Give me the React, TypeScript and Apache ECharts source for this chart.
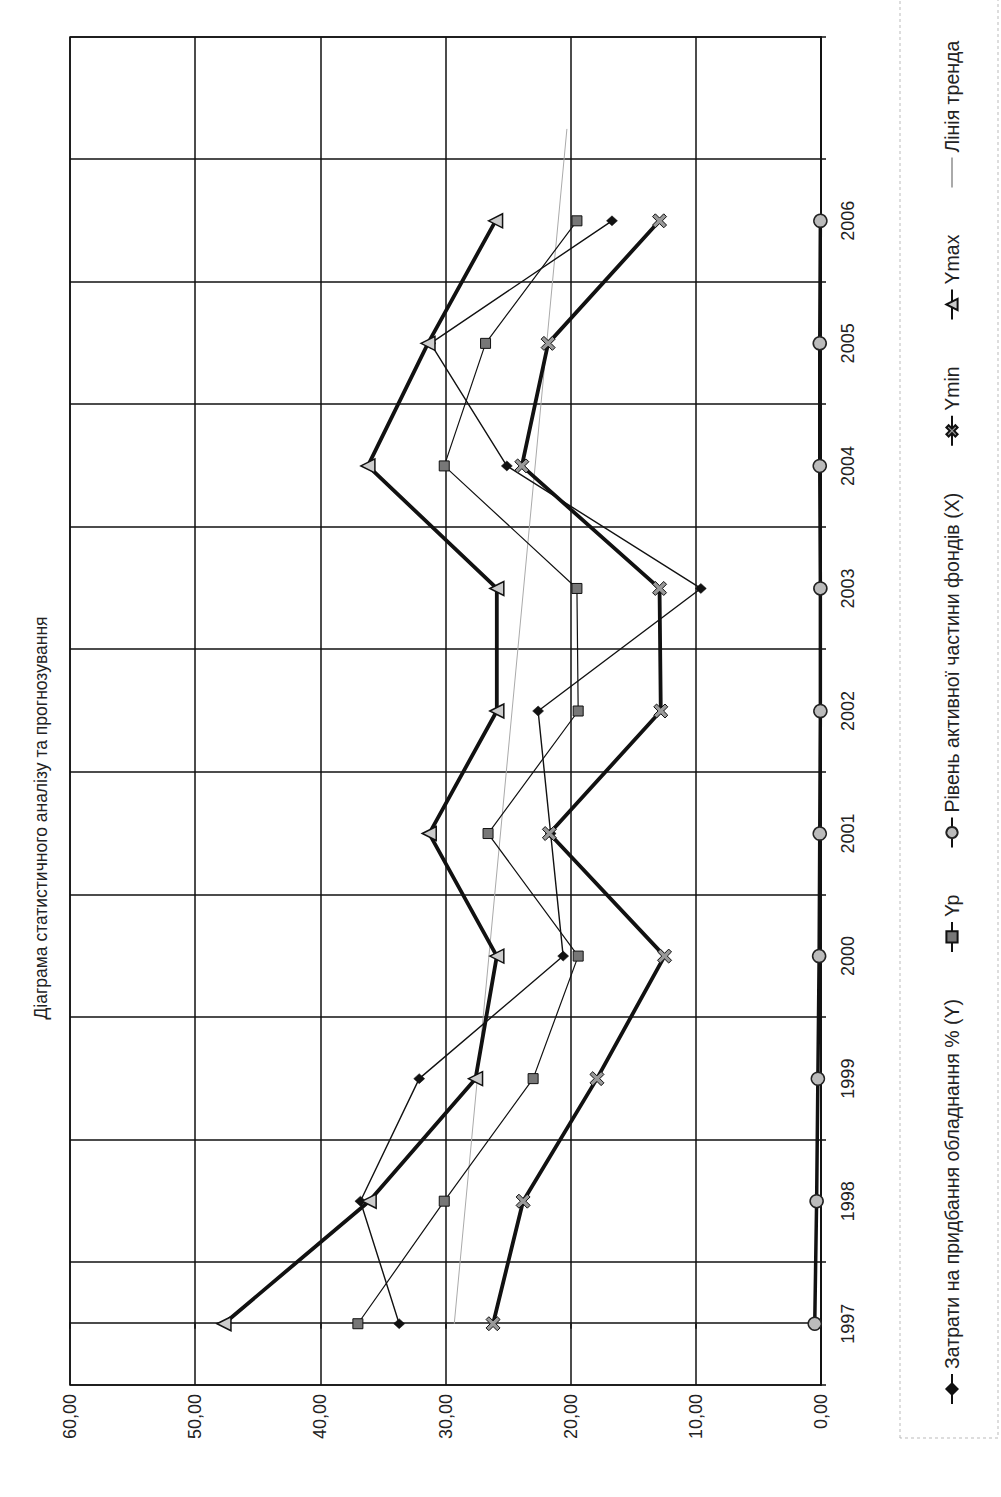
import React, { useEffect, useRef } from 'react';
import * as echarts from 'echarts';

// Categories (years) — the last, empty slot is the forecast band of the trend line
const years = ['1997', '1998', '1999', '2000', '2001', '2002', '2003', '2004', '2005', '2006', ''];

// Series values
const costsY = [33.7, 36.8, 32.1, 20.6, 21.6, 22.6, 9.6, 25.1, 31.2, 16.7];
const yp = [37.0, 30.1, 23.0, 19.4, 26.6, 19.4, 19.5, 30.1, 26.8, 19.5];
const levelX = [0.5, 0.35, 0.25, 0.15, 0.1, 0.05, 0.05, 0.1, 0.1, 0.05];
const yMin = [26.2, 23.8, 17.9, 12.5, 21.7, 12.8, 12.9, 23.9, 21.8, 12.9];
const yMax = [47.7, 36.1, 27.6, 25.9, 31.3, 25.9, 25.9, 36.2, 31.4, 26.0];

// Trend line (position index along the years, value)
const trendIdx = [0, 9.75];
const trendVal = [29.3, 20.3];

const seriesNames = [
  'Затрати на придбання обладнання % (Y)',
  'Yp',
  'Рівень активної частини фондів (X)',
  'Ymin',
  'Ymax',
  'Лінія тренда',
];
const titleText = 'Діаграма статистичного аналізу та прогнозування';

const W = 1497;
const H = 1001;
const FONT = '"Liberation Sans", Arial, sans-serif';
const INK = '#111';

export default function App() {
  const ref = useRef<HTMLDivElement>(null);

  useEffect(() => {
    if (!ref.current) return;
    const chart = echarts.init(ref.current, null, { renderer: 'svg' });
    const crossPath = 'path://M0,2L2,0L5,3L8,0L10,2L7,5L10,8L8,10L5,7L2,10L0,8L3,5Z';

    const option: any = {
      animation: false,
      backgroundColor: '#fff',
      textStyle: { fontFamily: FONT },
      graphic: [
        {
          type: 'text',
          x: 679,
          y: 41,
          style: {
            text: titleText,
            font: `17.5px ${FONT}`,
            fill: '#222',
            textAlign: 'center',
            textVerticalAlign: 'middle',
          },
        },
        {
          type: 'rect',
          shape: { x: 59, y: 900, width: 1460, height: 98 },
          style: { fill: 'none', stroke: '#bbb', lineWidth: 1, lineDash: [3, 3] },
          silent: true,
        },
      ],
      legend: {
        data: seriesNames.map((n, i) =>
          i === 5
            ? { name: n, itemStyle: { color: 'rgba(0,0,0,0)', borderWidth: 0 } }
            : { name: n }
        ),
        left: 92,
        top: 942,
        padding: 0,
        itemWidth: 30,
        itemHeight: 14,
        itemGap: 46,
        textStyle: { fontSize: 19.5, color: '#222', fontFamily: FONT },
      },
      grid: {
        left: 112,
        right: 37,
        top: 70,
        bottom: 180,
        show: true,
        borderColor: INK,
        borderWidth: 1.5,
        backgroundColor: 'transparent',
      },
      xAxis: [
        {
          type: 'category',
          data: years,
          boundaryGap: true,
          axisLine: { show: true, lineStyle: { color: INK, width: 1.5 } },
          axisTick: { show: true, length: 5, lineStyle: { color: INK, width: 1.5 } },
          splitLine: { show: true, lineStyle: { color: INK, width: 1.5 } },
          axisLabel: { interval: 0, fontSize: 18, color: '#222', margin: 18, fontFamily: FONT },
        },
        {
          type: 'value',
          min: -0.5,
          max: 10.5,
          show: false,
          position: 'top',
        },
      ],
      yAxis: {
        type: 'value',
        min: 0,
        max: 60,
        interval: 10,
        axisLine: { show: true, lineStyle: { color: INK, width: 1.5 } },
        axisTick: { show: true, length: 5, lineStyle: { color: INK, width: 1.5 } },
        splitLine: { show: true, lineStyle: { color: INK, width: 1.5 } },
        axisLabel: {
          fontSize: 18,
          color: '#222',
          margin: 9,
          fontFamily: FONT,
          formatter: (v: number) => v.toFixed(2).replace('.', ','),
        },
      },
      series: [
        {
          name: seriesNames[0],
          type: 'line',
          data: costsY,
          symbol: 'diamond',
          symbolSize: [10, 11],
          lineStyle: { color: INK, width: 1.4 },
          itemStyle: { color: INK, borderColor: INK, borderWidth: 0.5 },
          z: 3,
        },
        {
          name: seriesNames[1],
          type: 'line',
          data: yp,
          symbol: 'rect',
          symbolSize: 10,
          lineStyle: { color: INK, width: 1.2 },
          itemStyle: { color: '#777', borderColor: INK, borderWidth: 1 },
          z: 4,
        },
        {
          name: seriesNames[2],
          type: 'line',
          data: levelX,
          symbol: 'circle',
          symbolSize: 13,
          lineStyle: { color: INK, width: 3.5 },
          itemStyle: { color: '#bbb', borderColor: '#222', borderWidth: 1.5 },
          z: 5,
        },
        {
          name: seriesNames[3],
          type: 'line',
          data: yMin,
          symbol: crossPath,
          symbolSize: 14,
          lineStyle: { color: INK, width: 3.8 },
          itemStyle: { color: '#999', borderColor: INK, borderWidth: 1 },
          z: 6,
        },
        {
          name: seriesNames[4],
          type: 'line',
          data: yMax,
          symbol: 'triangle',
          symbolSize: 14,
          lineStyle: { color: INK, width: 3.8 },
          itemStyle: { color: '#ccc', borderColor: INK, borderWidth: 1.5 },
          z: 7,
        },
        {
          name: seriesNames[5],
          type: 'line',
          xAxisIndex: 1,
          data: trendIdx.map((x, i) => [x, trendVal[i]]),
          symbol: 'none',
          lineStyle: { color: '#aaa', width: 1 },
          itemStyle: { color: '#aaa' },
          z: 2,
        },
      ],
    };

    chart.setOption(option);
    return () => chart.dispose();
  }, []);

  return (
    <div
      style={{
        position: 'absolute',
        left: 0,
        top: 0,
        width: 1001,
        height: 1497,
        overflow: 'hidden',
        background: '#fff',
      }}
    >
      <div
        ref={ref}
        style={{
          position: 'absolute',
          left: 0,
          top: 0,
          width: W,
          height: H,
          transformOrigin: '0 0',
          transform: `translate(0px, ${W}px) rotate(-90deg)`,
        }}
      />
    </div>
  );
}
